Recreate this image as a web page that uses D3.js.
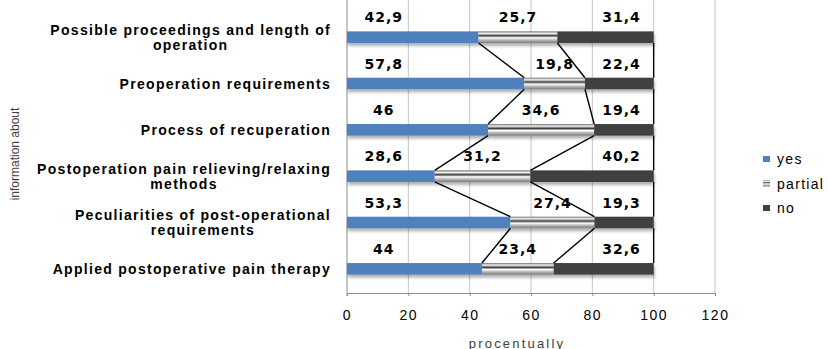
<!DOCTYPE html>
<html>
<head>
<meta charset="utf-8">
<script src="https://cdn.jsdelivr.net/npm/d3@7/dist/d3.min.js"></script>
<style>
  html, body { margin: 0; padding: 0; background: #fff; }
  svg { display: block; }
</style>
</head>
<body>
<svg id="chart" width="828" height="349"></svg>
<script>
// Categories, top to bottom
const categories = [
  ["Possible proceedings and length of", "operation"],
  ["Preoperation requirements"],
  ["Process of recuperation"],
  ["Postoperation pain relieving/relaxing", "methods"],
  ["Peculiarities of post-operational", "requirements"],
  ["Applied postoperative pain therapy"]
];
const seriesNames = ["yes", "partial", "no"];
const yesValues     = [42.9, 57.8, 46.0, 28.6, 53.3, 44.0];
const partialValues = [25.7, 19.8, 34.6, 31.2, 27.4, 23.4];
const noValues      = [31.4, 22.4, 19.4, 40.2, 19.3, 32.6];
const yesLabels     = ["42,9", "57,8", "46", "28,6", "53,3", "44"];
const partialLabels = ["25,7", "19,8", "34,6", "31,2", "27,4", "23,4"];
const noLabels      = ["31,4", "22,4", "19,4", "40,2", "19,3", "32,6"];
const xTicks = [0, 20, 40, 60, 80, 100, 120];

const svg = d3.select("#chart");
const keys = categories.map((c, i) => "c" + i);

const x = d3.scaleLinear().domain([0, 120]).range([347, 715]);
const y = d3.scaleBand().domain(keys).range([14, 292])
  .paddingInner(0.75).paddingOuter(0.375);
const axisY = 293;

const defs = svg.append("defs");
// metallic stripe fill for the "partial" series
const grad = defs.append("linearGradient").attr("id", "partialFill")
  .attr("x1", 0).attr("y1", 0).attr("x2", 0).attr("y2", 1);
[[0, "#6e6e6e"], [0.18, "#f4f4f4"], [0.38, "#3c3c3c"], [0.55, "#ffffff"],
 [0.75, "#b8b8b8"], [1, "#7a7a7a"]].forEach(([o, c]) =>
  grad.append("stop").attr("offset", o).attr("stop-color", c));
const shadow = defs.append("filter").attr("id", "barShadow")
  .attr("x", "-5%").attr("y", "-50%").attr("width", "110%").attr("height", "220%");
shadow.append("feDropShadow").attr("dx", 1).attr("dy", 3)
  .attr("stdDeviation", 1.6).attr("flood-color", "#000").attr("flood-opacity", 0.3);

const fills = { yes: "#4f81bd", partial: "url(#partialFill)", no: "#404040" };

// vertical gridlines
svg.append("g").selectAll("line").data(xTicks.slice(1)).join("line")
  .attr("x1", d => x(d)).attr("x2", d => x(d))
  .attr("y1", 0).attr("y2", axisY)
  .attr("stroke", "#c4c4c4").attr("stroke-width", 1);

// x axis
const xAxis = d3.axisBottom(x).tickValues(xTicks).tickSize(3).tickPadding(14);
const gx = svg.append("g").attr("transform", `translate(0,${axisY})`).call(xAxis);
gx.select(".domain").attr("stroke", "#8c8c8c");
gx.selectAll(".tick line").attr("stroke", "#8c8c8c");
gx.selectAll(".tick text")
  .attr("font-family", "Liberation Sans, Arial, sans-serif")
  .attr("font-size", 14).attr("letter-spacing", 1.5).attr("fill", "#000");

// left axis line
svg.append("line").attr("x1", x(0)).attr("x2", x(0)).attr("y1", 0).attr("y2", axisY + 3)
  .attr("stroke", "#8c8c8c");

// stacked data
const rows = keys.map((k, i) => ({
  key: k, yes: yesValues[i], partial: partialValues[i], no: noValues[i]
}));
const stacked = d3.stack().keys(seriesNames)(rows);

const barsG = svg.append("g").attr("filter", "url(#barShadow)");
stacked.forEach(layer => {
  barsG.append("g").selectAll("rect").data(layer).join("rect")
    .attr("x", d => x(d[0]))
    .attr("width", d => x(d[1]) - x(d[0]))
    .attr("y", d => y(d.data.key))
    .attr("height", y.bandwidth())
    .attr("fill", fills[layer.key]);
});

// series lines joining segment boundaries of neighbouring bars
const bounds = rows.map(r => [r.yes, r.yes + r.partial, r.yes + r.partial + r.no]);
const links = [];
for (let i = 0; i < rows.length - 1; i++) {
  for (let b = 0; b < 3; b++) {
    links.push({
      x1: x(bounds[i][b]), y1: y(keys[i]) + y.bandwidth(),
      x2: x(bounds[i + 1][b]), y2: y(keys[i + 1])
    });
  }
}
svg.append("g").selectAll("line").data(links).join("line")
  .attr("x1", d => d.x1).attr("y1", d => d.y1)
  .attr("x2", d => d.x2).attr("y2", d => d.y2)
  .attr("stroke", "#000").attr("stroke-width", 1.4);

// value labels above each bar
const labelFont = "DejaVu Sans, Verdana, sans-serif";
const labelRows = [];
rows.forEach((r, i) => {
  const cy = y(r.key) + y.bandwidth() / 2 - 20;
  labelRows.push({ t: yesLabels[i], x: x(12), y: cy });
  labelRows.push({ t: partialLabels[i], x: x(r.yes + r.partial / 2), y: cy });
  labelRows.push({ t: noLabels[i], x: x(89.5), y: cy });
});
svg.append("g").selectAll("text").data(labelRows).join("text")
  .attr("x", d => d.x).attr("y", d => d.y)
  .attr("text-anchor", "middle").attr("dominant-baseline", "central")
  .attr("font-family", labelFont).attr("font-weight", "bold")
  .attr("font-size", 14).attr("letter-spacing", 1).attr("fill", "#000")
  .text(d => d.t);

// category labels
const catG = svg.append("g");
categories.forEach((lines, i) => {
  const cy = y(keys[i]) + y.bandwidth() / 2;
  const lh = 15;
  const t = catG.append("text")
    .attr("font-family", "Liberation Sans, Arial, sans-serif")
    .attr("font-weight", "bold").attr("font-size", 14)
    .attr("letter-spacing", 1.3)
    .attr("fill", "#000");
  lines.forEach((ln, j) => {
    t.append("tspan").attr("x", 0)
      .attr("y", cy + (j - (lines.length - 1) / 2) * lh)
      .attr("dominant-baseline", "central")
      .text(ln);
  });
  // right-align the block at the axis, centre the lines within it
  const spans = t.selectAll("tspan").nodes();
  const widths = spans.map(s => s.getComputedTextLength());
  const wMax = d3.max(widths);
  const right = 331;
  spans.forEach(s => {
    d3.select(s).attr("x", right - wMax / 2).attr("text-anchor", "middle");
  });
});

// axis titles
svg.append("text")
  .attr("transform", `translate(15,154) rotate(-90)`)
  .attr("text-anchor", "middle").attr("dominant-baseline", "central")
  .attr("font-family", "Liberation Sans Narrow, Liberation Sans, Arial, sans-serif")
  .attr("font-size", 12).attr("fill", "#404040")
  .text("information about");
svg.append("text")
  .attr("x", 517).attr("y", 343)
  .attr("text-anchor", "middle").attr("dominant-baseline", "central")
  .attr("font-family", "Liberation Sans, Arial, sans-serif")
  .attr("font-size", 13).attr("letter-spacing", 2.2).attr("fill", "#404040")
  .text("procentually");

// legend
const legend = svg.append("g");
seriesNames.forEach((s, i) => {
  const ly = 159 + i * 24.5;
  legend.append("rect").attr("x", 763).attr("y", ly - 3).attr("width", 7).attr("height", 6)
    .attr("fill", fills[s]);
  legend.append("text").attr("x", 777).attr("y", ly)
    .attr("dominant-baseline", "central")
    .attr("font-family", "Liberation Sans, Arial, sans-serif")
    .attr("font-size", 14).attr("letter-spacing", 1.3).attr("fill", "#000")
    .text(s);
});
</script>
</body>
</html>
